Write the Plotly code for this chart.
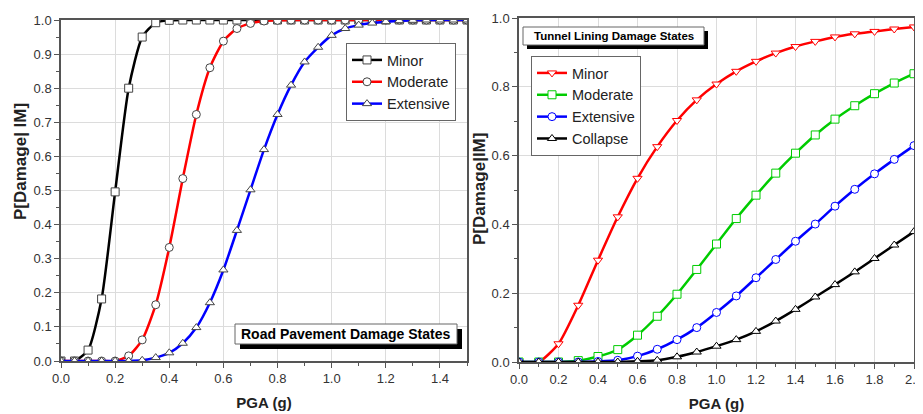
import plotly.graph_objects as go

# ---------------- Data ----------------
# Left panel: Road pavement fragility (PGA step 0.05 g)
road_pga = [round(0.05 * i, 2) for i in range(31)]
road_minor = [0.0, 0.0, 0.032, 0.182, 0.496, 0.80, 0.95, 0.992, 0.999, 1.0, 1.0,
              1.0, 1.0, 1.0, 1.0, 1.0, 1.0, 1.0, 1.0, 1.0, 1.0,
              1.0, 1.0, 1.0, 1.0, 1.0, 1.0, 1.0, 1.0, 1.0, 1.0]
road_moderate = [0.0, 0.0, 0.0, 0.0, 0.0, 0.015, 0.062, 0.165, 0.333, 0.535, 0.723,
                 0.86, 0.938, 0.975, 0.99, 0.997, 0.999, 1.0, 1.0, 1.0, 1.0,
                 1.0, 1.0, 1.0, 1.0, 1.0, 1.0, 1.0, 1.0, 1.0, 1.0]
road_extensive = [0.0, 0.0, 0.0, 0.0, 0.0, 0.0, 0.002, 0.01, 0.024, 0.052, 0.098,
                  0.171, 0.267, 0.383, 0.502, 0.62, 0.723, 0.809, 0.877, 0.92, 0.955,
                  0.975, 0.985, 0.991, 0.995, 0.998, 0.999, 1.0, 1.0, 1.0, 1.0]

# Right panel: Tunnel lining fragility (PGA step 0.1 g)
tun_pga = [round(0.1 * i, 1) for i in range(21)]
tun_minor = [0.0, 0.0, 0.053, 0.165, 0.296, 0.422, 0.534, 0.626, 0.702, 0.762, 0.808,
             0.845, 0.874, 0.898, 0.917, 0.932, 0.945, 0.954, 0.961, 0.968, 0.974]
tun_moderate = [0.0, 0.0, 0.0, 0.004, 0.016, 0.036, 0.078, 0.133, 0.197, 0.269, 0.343,
                0.417, 0.485, 0.549, 0.607, 0.66, 0.706, 0.745, 0.78, 0.811, 0.838]
tun_extensive = [0.0, 0.0, 0.0, 0.0, 0.0015, 0.005, 0.017, 0.037, 0.065, 0.10, 0.144,
                 0.192, 0.245, 0.298, 0.351, 0.401, 0.453, 0.502, 0.547, 0.589, 0.629]
tun_collapse = [0.0, 0.0, 0.0, 0.0, 0.0, 0.0, 0.002, 0.005, 0.015, 0.029, 0.046,
                0.065, 0.089, 0.119, 0.153, 0.189, 0.225, 0.262, 0.301, 0.34, 0.379]

road_title = "Road Pavement Damage States"
tunnel_title = "Tunnel Lining Damage States"
x_title = "PGA (g)"
y_title_left = "P[Damage| IM]"
y_title_right = "P[Damage|IM]"

# ---------------- Figure ----------------
OFF = 8                      # page body margin of the html page
W, H = 923 - OFF, 414 - OFF
FONT = "Arial, 'Liberation Sans', sans-serif"


def px(x):
    return (x - OFF) / W


def py(y):
    return 1 - (y - OFF) / H


fig = go.Figure()

left_series = [
    ("Minor", road_minor, "#000000", "square"),
    ("Moderate", road_moderate, "#ff0000", "circle"),
    ("Extensive", road_extensive, "#0000ff", "triangle-up"),
]
for name, ys, col, sym in left_series:
    fig.add_trace(go.Scatter(
        x=road_pga, y=ys, name=name, mode="lines+markers",
        line=dict(color=col, width=2.5, shape="spline", smoothing=0.6),
        marker=dict(symbol=sym, size=8, color="white", line=dict(color="#444444", width=1)),
        xaxis="x", yaxis="y", legend="legend",
    ))

right_series = [
    ("Minor", tun_minor, "#ff0000", "triangle-down"),
    ("Moderate", tun_moderate, "#00cc00", "square"),
    ("Extensive", tun_extensive, "#0000ff", "circle"),
    ("Collapse", tun_collapse, "#000000", "triangle-up"),
]
for name, ys, col, sym in right_series:
    fig.add_trace(go.Scatter(
        x=tun_pga, y=ys, name=name, mode="lines+markers",
        line=dict(color=col, width=2.5, shape="spline", smoothing=0.6),
        marker=dict(symbol=sym, size=8, color="white", line=dict(color=col, width=1)),
        xaxis="x2", yaxis="y2", legend="legend2",
    ))

axis_common = dict(
    showgrid=True, gridcolor="#dcdcdc", gridwidth=1,
    showline=True, linecolor="#555555", linewidth=1.5, mirror=True,
    ticks="outside", ticklen=5, tickcolor="#555555", tickwidth=1,
    tickfont=dict(family=FONT, size=13, color="#333333"),
    zeroline=False, automargin=False, ticklabeloverflow="allow",
)
xtitle_font = dict(family=FONT, size=15, color="#222222")

fig.update_layout(
    width=W, height=H,
    margin=dict(l=0, r=0, t=0, b=0, autoexpand=False),
    paper_bgcolor="white", plot_bgcolor="white",
    font=dict(family=FONT, color="#222222"),
    xaxis=dict(
        domain=[px(61), px(467)], range=[0, 1.5], dtick=0.2, tick0=0,
        tickformat=".1f",
        minor=dict(ticks="outside", ticklen=3, dtick=0.1, tick0=0, tickcolor="#555555"),
        title=dict(text="<b>" + x_title + "</b>", font=xtitle_font, standoff=12),
        anchor="y", **axis_common,
    ),
    yaxis=dict(
        domain=[py(361), py(20)], range=[0, 1.0], dtick=0.1, tick0=0,
        tickformat=".1f",
        minor=dict(ticks="outside", ticklen=3, dtick=0.05, tick0=0, tickcolor="#555555"),
        anchor="x", **axis_common,
    ),
    xaxis2=dict(
        domain=[px(519), px(914)], range=[0, 2.0], dtick=0.2, tick0=0,
        tickformat=".1f",
        minor=dict(ticks="outside", ticklen=3, dtick=0.1, tick0=0, tickcolor="#555555"),
        title=dict(text="<b>" + x_title + "</b>", font=xtitle_font, standoff=12),
        anchor="y2", **axis_common,
    ),
    yaxis2=dict(
        domain=[py(362), py(18)], range=[0, 1.0], dtick=0.2, tick0=0,
        tickformat=".1f",
        minor=dict(ticks="outside", ticklen=3, dtick=0.1, tick0=0, tickcolor="#555555"),
        anchor="x2", **axis_common,
    ),
    legend=dict(
        x=px(346), y=py(43), xanchor="left", yanchor="top",
        bgcolor="white", bordercolor="#666666", borderwidth=1,
        font=dict(family=FONT, size=14.5, color="#222222"),
        tracegroupgap=0, itemwidth=30,
    ),
    legend2=dict(
        x=px(531), y=py(56), xanchor="left", yanchor="top",
        bgcolor="white", bordercolor="#666666", borderwidth=1,
        font=dict(family=FONT, size=14.5, color="#222222"),
        tracegroupgap=0, itemwidth=30,
    ),
    showlegend=True,
)

# Y-axis titles as rotated annotations
fig.add_annotation(text="<b>" + y_title_left + "</b>", xref="paper", yref="paper",
                   x=px(20), y=py(162), xanchor="center", yanchor="middle",
                   textangle=-90, showarrow=False,
                   font=dict(family=FONT, size=17, color="#222222"))
fig.add_annotation(text="<b>" + y_title_right + "</b>", xref="paper", yref="paper",
                   x=px(480), y=py(189), xanchor="center", yanchor="middle",
                   textangle=-90, showarrow=False,
                   font=dict(family=FONT, size=17, color="#222222"))

# Title boxes with drop shadows
shapes = []
shapes.append(dict(type="rect", xref="paper", yref="paper",
                   x0=px(240), x1=px(462), y0=py(349), y1=py(329),
                   fillcolor="black", line=dict(width=0)))
shapes.append(dict(type="rect", xref="paper", yref="paper",
                   x0=px(235), x1=px(457), y0=py(344), y1=py(324),
                   fillcolor="white", line=dict(color="#666666", width=1)))
shapes.append(dict(type="rect", xref="paper", yref="paper",
                   x0=px(527), x1=px(708), y0=py(49), y1=py(31),
                   fillcolor="black", line=dict(width=0)))
shapes.append(dict(type="rect", xref="paper", yref="paper",
                   x0=px(523), x1=px(704), y0=py(45), y1=py(27),
                   fillcolor="white", line=dict(color="#666666", width=1)))
fig.update_layout(shapes=shapes)

fig.add_annotation(text="<b>" + road_title + "</b>", xref="paper", yref="paper",
                   x=px(346), y=py(334), xanchor="center", yanchor="middle",
                   showarrow=False, font=dict(family=FONT, size=14, color="#000000"))
fig.add_annotation(text="<b>" + tunnel_title + "</b>", xref="paper", yref="paper",
                   x=px(614), y=py(36), xanchor="center", yanchor="middle",
                   showarrow=False, font=dict(family=FONT, size=11.5, color="#000000"))

fig.write_html("out.html")
